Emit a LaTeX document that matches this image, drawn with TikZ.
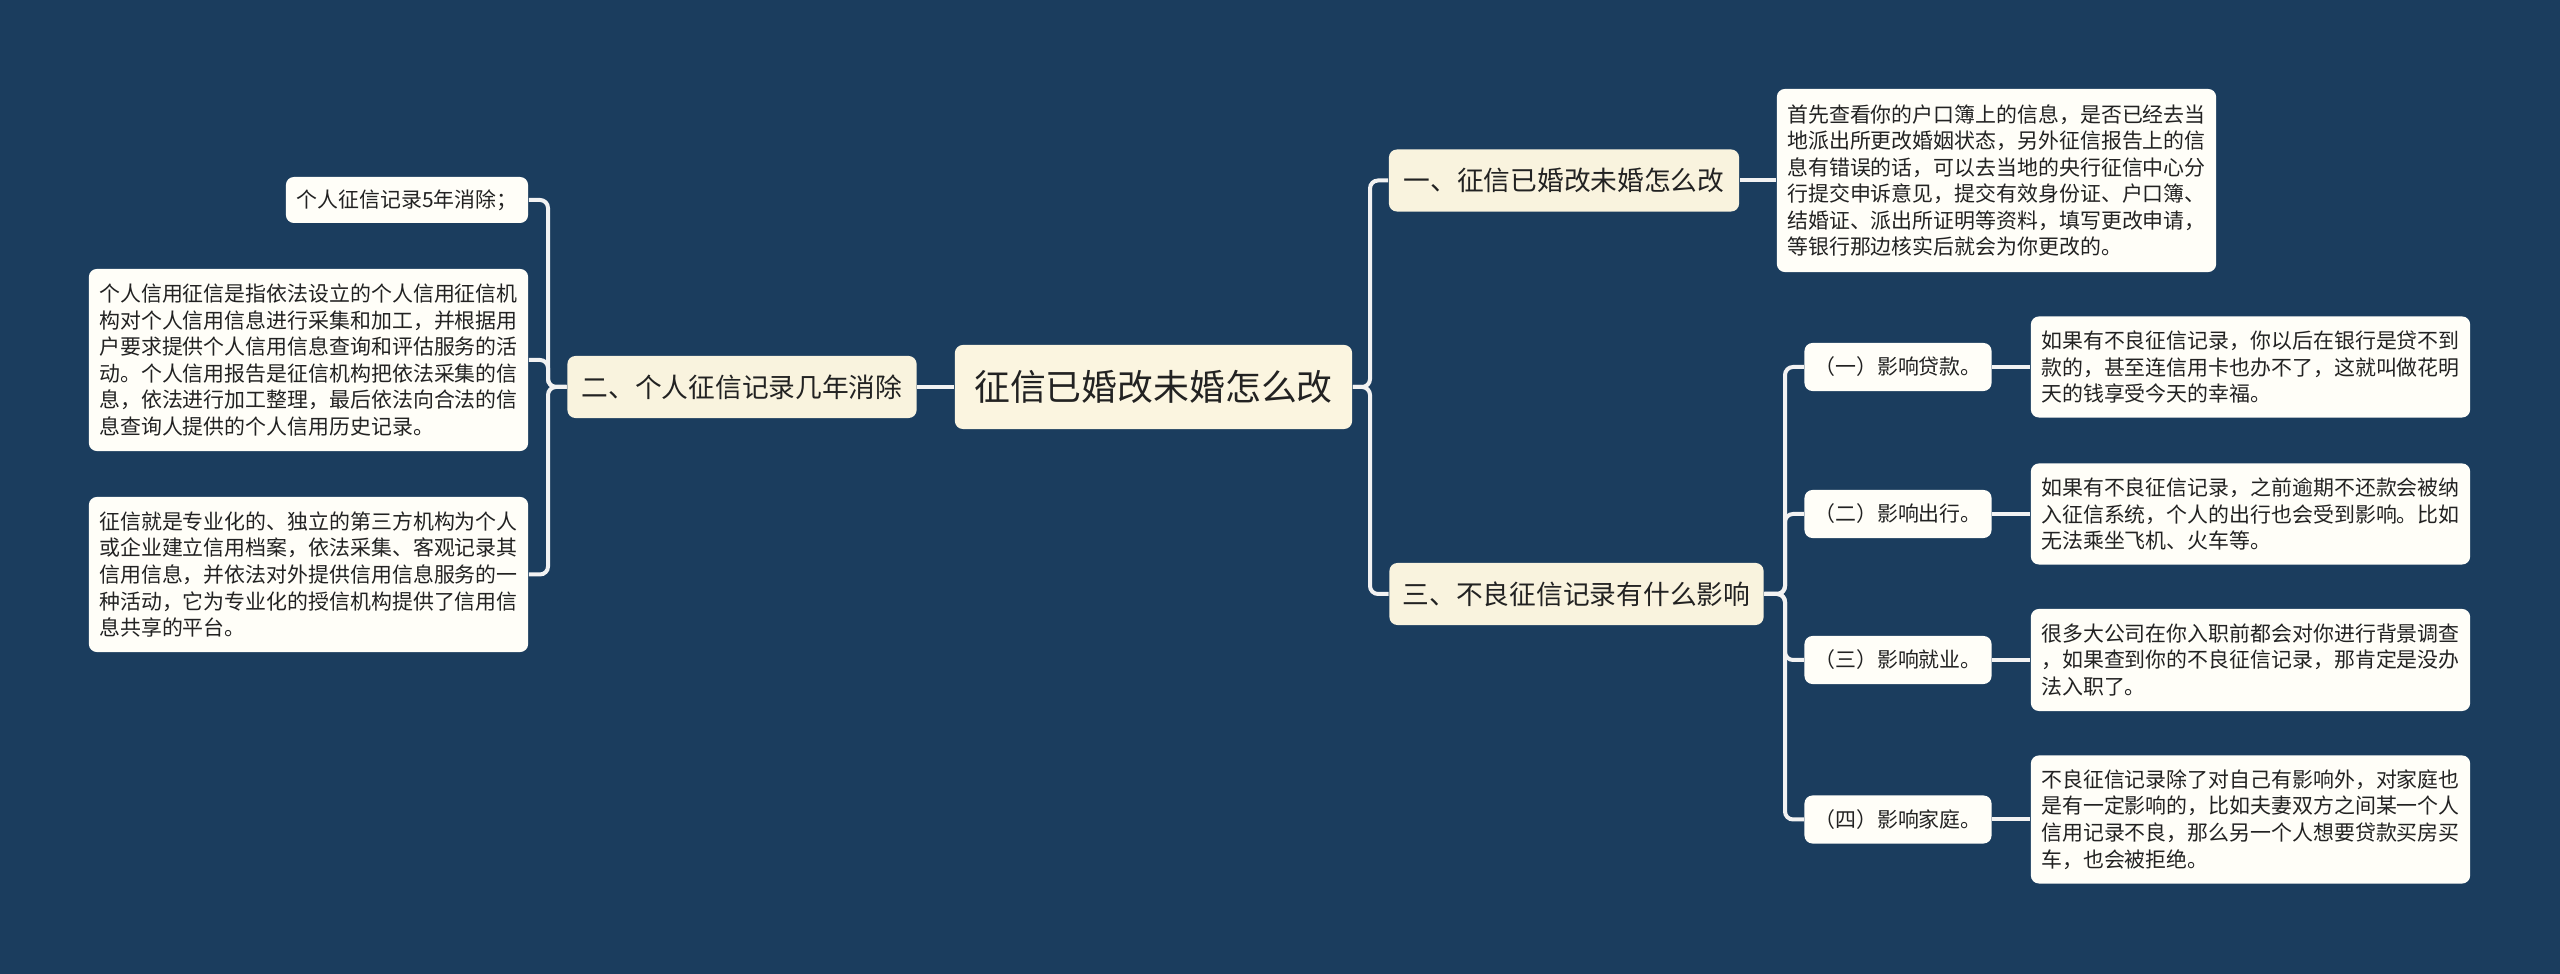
\documentclass[tikz,border=0pt]{standalone}
\usepackage{fontspec}
\setmainfont{Noto Sans CJK SC}
\definecolor{bgblue}{HTML}{1B3D5E}
\definecolor{rootfill}{HTML}{FBF5E0}
\definecolor{topicfill}{HTML}{F9F3DE}
\definecolor{leaffill}{HTML}{FFFEF8}
\definecolor{linkcol}{HTML}{F2F2F2}
\definecolor{ink}{HTML}{222222}
\tikzset{
  box/.style={rounded corners=0.08cm, text=ink, inner sep=0pt},
  rootbox/.style={box, fill=rootfill, minimum width=3.97cm, minimum height=0.84cm,
    font=\fontsize{10.2}{12}\selectfont},
  topicbox/.style={box, fill=topicfill, minimum height=0.62cm,
    font=\fontsize{7.6}{9}\selectfont},
  leafbox/.style={box, fill=leaffill, align=left,
    font=\fontsize{5.95}{7.56}\selectfont},
  subbox/.style={leafbox, minimum width=1.87cm, minimum height=0.48cm},
  detailbox/.style={leafbox, minimum width=4.39cm},
  link/.style={draw=linkcol, line width=0.04cm, rounded corners=0.08cm},
}
\begin{document}
\begin{tikzpicture}[x=0.01cm,y=-0.01cm]
\fill[bgblue] (0,0) rectangle (2560,974);

\node[rootbox] (root) at (1153.5,387) {征信已婚改未婚怎么改};

% left side
\node[topicbox, minimum width=3.49cm] (b2) at (742,387) {二、个人征信记录几年消除};
\node[leafbox, minimum width=2.42cm, minimum height=0.46cm] (l1) at (407,200) {个人征信记录5年消除；};
\node[leafbox, minimum width=4.39cm, minimum height=1.82cm] (l2) at (308.5,360) {个人信用征信是指依法设立的个人信用征信机\\构对个人信用信息进行采集和加工，并根据用\\户要求提供个人信用信息查询和评估服务的活\\动。个人信用报告是征信机构把依法采集的信\\息，依法进行加工整理，最后依法向合法的信\\息查询人提供的个人信用历史记录。};
\node[leafbox, minimum width=4.39cm, minimum height=1.55cm] (l3) at (308.5,574.5) {征信就是专业化的、独立的第三方机构为个人\\或企业建立信用档案，依法采集、客观记录其\\信用信息，并依法对外提供信用信息服务的一\\种活动，它为专业化的授信机构提供了信用信\\息共享的平台。};

% right side
\node[topicbox, minimum width=3.5cm] (b1) at (1564,180.5) {一、征信已婚改未婚怎么改};
\node[detailbox, minimum height=1.83cm] (r1) at (1996.5,180.5) {首先查看你的户口簿上的信息，是否已经去当\\地派出所更改婚姻状态，另外征信报告上的信\\息有错误的话，可以去当地的央行征信中心分\\行提交申诉意见，提交有效身份证、户口簿、\\结婚证、派出所证明等资料，填写更改申请，\\等银行那边核实后就会为你更改的。};
\node[topicbox, minimum width=3.74cm] (b3) at (1576.5,594) {三、不良征信记录有什么影响};

\node[subbox] (s1) at (1898,367) {（一）影响贷款。};
\node[subbox] (s2) at (1898,514) {（二）影响出行。};
\node[subbox] (s3) at (1898,660) {（三）影响就业。};
\node[subbox] (s4) at (1898,819.5) {（四）影响家庭。};

\node[detailbox, minimum height=1.01cm] (d1) at (2250.5,367) {如果有不良征信记录，你以后在银行是贷不到\\款的，甚至连信用卡也办不了，这就叫做花明\\天的钱享受今天的幸福。};
\node[detailbox, minimum height=1.01cm] (d2) at (2250.5,514) {如果有不良征信记录，之前逾期不还款会被纳\\入征信系统，个人的出行也会受到影响。比如\\无法乘坐飞机、火车等。};
\node[detailbox, minimum height=1.02cm] (d3) at (2250.5,660) {很多大公司在你入职前都会对你进行背景调查\\，如果查到你的不良征信记录，那肯定是没办\\法入职了。};
\node[detailbox, minimum height=1.28cm] (d4) at (2250.5,819.5) {不良征信记录除了对自己有影响外，对家庭也\\是有一定影响的，比如夫妻双方之间某一个人\\信用记录不良，那么另一个人想要贷款买房买\\车，也会被拒绝。};

% connectors
\coordinate (lj) at (548,387);
\coordinate (rj) at (1370,387);
\coordinate (sj) at (1785,594);
\draw[link] (root.west) -- (b2.east);
\foreach \n in {l1,l2,l3}
  \draw[link] (b2.west) -- (lj) |- (\n.east);
\foreach \n in {b1,b3}
  \draw[link] (root.east) -- (rj) |- (\n.west);
\draw[link] (b1.east) -- (r1.west);
\foreach \i in {1,...,4}{
  \draw[link] (b3.east) -- (sj) |- (s\i.west);
  \draw[link] (s\i.east) -- (d\i.west);
}
\end{tikzpicture}
\end{document}
